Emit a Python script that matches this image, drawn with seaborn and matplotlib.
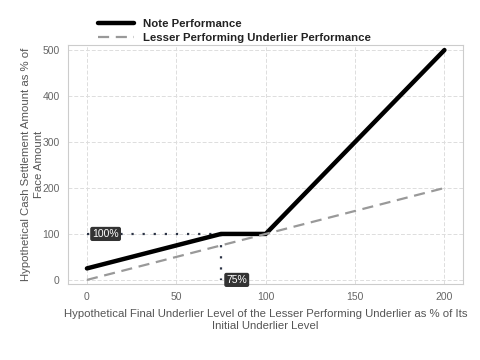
import matplotlib
matplotlib.use("Agg")
import matplotlib.pyplot as plt
import seaborn as sns
import pandas as pd

# underlier level (% of initial) and resulting payouts
underlier_x = [0, 75, 100, 200]
note_y = [25, 100, 100, 500]
underlier_y = [0, 75, 100, 200]

threshold_x = 75
threshold_y = 100

sns.set_theme(style="whitegrid")
plt.rcParams["font.family"] = ["Liberation Sans", "DejaVu Sans"]

df = pd.DataFrame({"x": underlier_x, "note": note_y, "under": underlier_y})

fig = plt.figure(figsize=(4.8, 3.6), dpi=100)
ax = fig.add_axes([0.142, 0.211, 0.823, 0.664])

sns.lineplot(data=df, x="x", y="note", ax=ax, color="black", linewidth=3.2,
             label="Note Performance")
sns.lineplot(data=df, x="x", y="under", ax=ax, color="#999999", linewidth=1.6,
             linestyle=(0, (5, 3)), label="Lesser Performing Underlier Performance")

dot_col = "#2b3345"
ax.plot([0, threshold_x], [threshold_y, threshold_y], color=dot_col, linewidth=1.6,
        linestyle=(0, (1, 4)), zorder=1)
ax.plot([threshold_x, threshold_x], [threshold_y, 0], color=dot_col, linewidth=1.6,
        linestyle=(0, (1, 4)), zorder=1)

box = dict(boxstyle="round,pad=0.2", fc="#333333", ec="none")
ax.text(3, threshold_y, "100%", color="white", fontsize=7.5, ha="left", va="center", bbox=box)
ax.text(threshold_x + 3, 0, "75%", color="white", fontsize=7.5, ha="left", va="center", bbox=box)

ax.set_xlim(-10.5, 210.5)
ax.set_ylim(-9, 511)
ax.set_xticks([0, 50, 100, 150, 200])
ax.set_yticks([0, 100, 200, 300, 400, 500])
ax.tick_params(labelsize=7.5, colors="#666666", length=0, pad=6)

ax.grid(True, color="#dddddd", linestyle=(0, (4, 2)), linewidth=0.7)
for s in ax.spines.values():
    s.set_color("#cccccc")
    s.set_linewidth(0.8)

ax.set_xlabel("Hypothetical Final Underlier Level of the Lesser Performing Underlier as % of Its\nInitial Underlier Level",
              fontsize=8.2, color="#555555", linespacing=1.35, labelpad=4.5)
ax.set_ylabel("Hypothetical Cash Settlement Amount as % of\nFace Amount", fontsize=8.2,
              color="#555555", linespacing=1.35, labelpad=-1)

leg = ax.legend(loc="lower left", bbox_to_anchor=(0.06, 0.985), frameon=False,
                prop={"weight": "bold", "size": 8.2}, handlelength=3.2,
                borderaxespad=0.1, labelspacing=0.35)
for t in leg.get_texts():
    t.set_color("#222222")

fig.savefig("out.png", dpi=100)
